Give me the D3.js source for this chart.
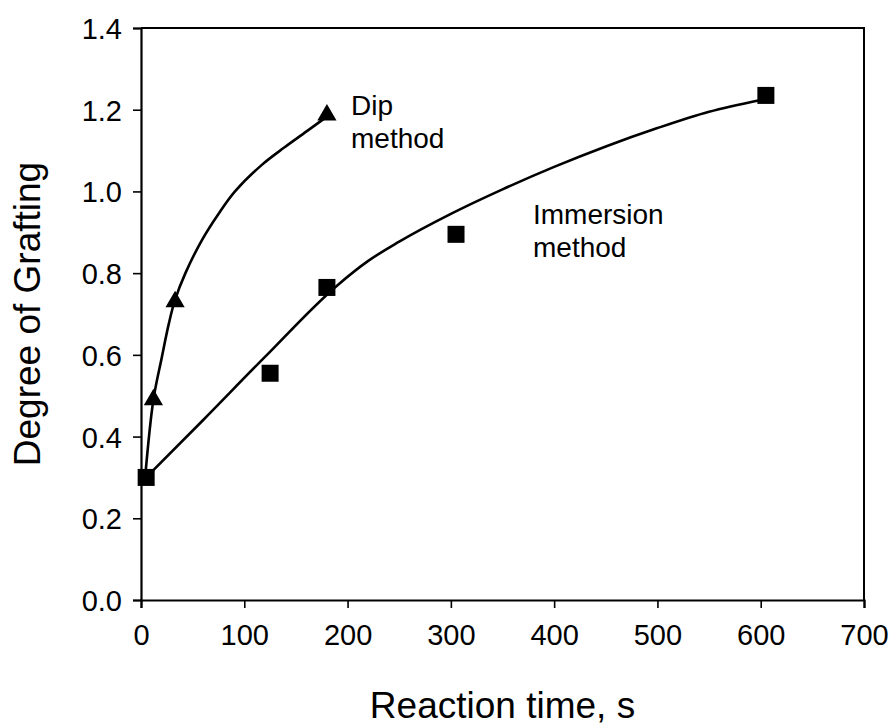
<!DOCTYPE html>
<html>
<head>
<meta charset="utf-8">
<script src="https://cdn.jsdelivr.net/npm/d3@7"></script>
<style>
  html, body { margin: 0; padding: 0; background: #fff; }
  svg { display: block; font-family: "Liberation Sans", Arial, Helvetica, sans-serif; }
</style>
</head>
<body>
<svg id="chart" width="890" height="727"></svg>
<script>
// ---- data ----
const xTicks = [0, 100, 200, 300, 400, 500, 600, 700];
const yTicks = [0.0, 0.2, 0.4, 0.6, 0.8, 1.0, 1.2, 1.4];

// Immersion method: measured points
const immersionTime = [5, 125, 180, 305, 605];
const immersionDG   = [0.30, 0.555, 0.765, 0.895, 1.235];

// Dip method: measured points
const dipTime = [12, 33, 180];
const dipDG   = [0.49, 0.73, 1.187];

// Fitted curves
const immersionCurveTime = [5, 60, 120, 190, 220, 250, 300, 350, 400, 450, 500, 550, 600];
const immersionCurveDG   = [0.30, 0.44, 0.595, 0.77, 0.83, 0.877, 0.945, 1.005, 1.06, 1.11, 1.155, 1.195, 1.224];

const dipCurveTime = [4, 12, 20, 27, 33, 43, 59, 75, 91, 117, 139, 162, 180];
const dipCurveDG   = [0.30, 0.49, 0.592, 0.677, 0.735, 0.80, 0.881, 0.945, 1.0, 1.065, 1.108, 1.150, 1.183];

// ---- layout ----
const svg = d3.select("#chart");
const L = 141, R = 864, T = 28, B = 600;

const x = d3.scaleLinear().domain([0, 700]).range([L, R]);
const y = d3.scaleLinear().domain([0, 1.4]).range([B, T]);

// frame (top and right)
svg.append("path")
  .attr("d", `M${L},${T}H${R}V${B}`)
  .attr("fill", "none").attr("stroke", "#000").attr("stroke-width", 2);

// axes
const xAxis = svg.append("g").attr("transform", `translate(0,${B})`)
  .call(d3.axisBottom(x).tickValues(xTicks).tickSize(8).tickPadding(16).tickFormat(d3.format("d")));
const yAxis = svg.append("g").attr("transform", `translate(${L},0)`)
  .call(d3.axisLeft(y).tickValues(yTicks).tickSize(8).tickPadding(11).tickFormat(d3.format(".1f")));

[xAxis, yAxis].forEach(g => {
  g.attr("font-size", null).attr("font-family", null);
  g.select(".domain").attr("stroke", "#000").attr("stroke-width", 2.2);
  g.selectAll(".tick line").attr("stroke", "#000").attr("stroke-width", 1.6);
  g.selectAll(".tick text").attr("fill", "#000")
    .attr("font-family", "'Liberation Sans', Arial, sans-serif")
    .attr("font-size", 29);
});
yAxis.selectAll(".tick text").attr("dy", "0.36em");

// axis titles
svg.append("text")
  .attr("x", (L + R) / 2).attr("y", 718)
  .attr("text-anchor", "middle")
  .attr("font-size", 37).attr("fill", "#000")
  .text("Reaction time, s");

svg.append("text")
  .attr("transform", `translate(40,${(T + B) / 2}) rotate(-90)`)
  .attr("text-anchor", "middle")
  .attr("font-size", 37).attr("fill", "#000")
  .text("Degree of Grafting");

// curves
const lineImm = d3.line().x(d => x(d[0])).y(d => y(d[1])).curve(d3.curveMonotoneX);
const lineDip = d3.line().x(d => x(d[0])).y(d => y(d[1])).curve(d3.curveCatmullRom.alpha(0.5));

svg.append("path")
  .datum(immersionCurveTime.map((t, i) => [t, immersionCurveDG[i]]))
  .attr("d", lineImm).attr("fill", "none").attr("stroke", "#000").attr("stroke-width", 2.6);

svg.append("path")
  .datum(dipCurveTime.map((t, i) => [t, dipCurveDG[i]]))
  .attr("d", lineDip).attr("fill", "none").attr("stroke", "#000").attr("stroke-width", 2.6);

// markers
const tri = d3.symbol().type(d3.symbolTriangle).size(160);
svg.append("g").selectAll("path")
  .data(dipTime.map((t, i) => [t, dipDG[i]]))
  .join("path")
  .attr("d", tri)
  .attr("transform", d => `translate(${x(d[0])},${y(d[1])})`)
  .attr("fill", "#000");

const sq = 17;
svg.append("g").selectAll("rect")
  .data(immersionTime.map((t, i) => [t, immersionDG[i]]))
  .join("rect")
  .attr("x", d => x(d[0]) - sq / 2).attr("y", d => y(d[1]) - sq / 2)
  .attr("width", sq).attr("height", sq)
  .attr("fill", "#000");

// annotations
const ann = [
  { t: "Dip", px: 351, py: 115 },
  { t: "method", px: 351, py: 148 },
  { t: "Immersion", px: 533, py: 224 },
  { t: "method", px: 533, py: 257 }
];
svg.append("g").selectAll("text")
  .data(ann).join("text")
  .attr("x", d => d.px).attr("y", d => d.py)
  .attr("font-size", 28).attr("fill", "#000")
  .text(d => d.t);
</script>
</body>
</html>
